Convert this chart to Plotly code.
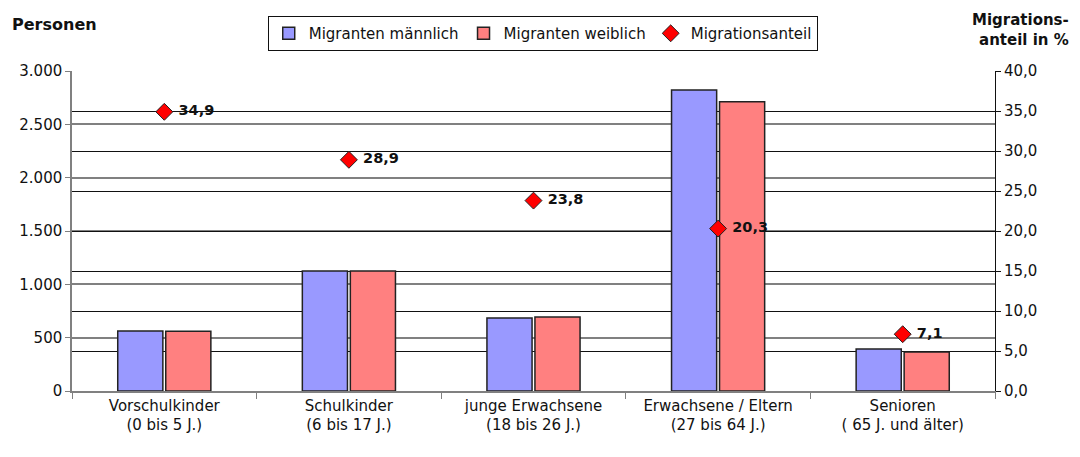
import plotly.graph_objects as go

# Altersgruppen
kategorien = [
    "Vorschulkinder<br>(0 bis 5 J.)",
    "Schulkinder<br>(6 bis 17 J.)",
    "junge Erwachsene<br>(18 bis 26 J.)",
    "Erwachsene / Eltern<br>(27 bis 64 J.)",
    "Senioren<br>( 65 J. und älter)",
]
maennlich = [562, 1125, 684, 2822, 394]
weiblich = [560, 1125, 694, 2712, 366]
anteil = [34.9, 28.9, 23.8, 20.3, 7.1]
anteil_text = [" " + ("%.1f" % v).replace(".", ",") for v in anteil]

font = "DejaVu Sans, Arial, sans-serif"

fig = go.Figure()
fig.add_trace(go.Bar(x=kategorien, y=maennlich, name="Migranten männlich",
                     marker=dict(color="#9999ff", line=dict(color="#222222", width=1.5))))
fig.add_trace(go.Bar(x=kategorien, y=weiblich, name="Migranten weiblich",
                     marker=dict(color="#ff8080", line=dict(color="#222222", width=1.5))))
fig.add_trace(go.Scatter(x=kategorien, y=anteil, name="Migrationsanteil", yaxis="y2",
                         mode="markers+text", text=anteil_text,
                         textposition="middle right",
                         textfont=dict(size=14.5, color="#111111", weight="bold"),
                         marker=dict(symbol="diamond", size=13, color="#ff0000",
                                     line=dict(color="#222222", width=1))))

# page body has an 8px margin, so the figure is a bit smaller than the window
fig.update_layout(
    width=1064, height=441,
    margin=dict(l=64, r=77, t=63, b=58, autoexpand=False),
    plot_bgcolor="white", paper_bgcolor="white",
    font=dict(family=font, size=15, color="#111111"),
    separators=",.",
    barmode="group", bargap=0.48, bargroupgap=0.06,
    showlegend=True,
    legend=dict(orientation="h", x=0.51, xanchor="center", y=1.117, yanchor="middle",
                bordercolor="#111111", borderwidth=1, font=dict(size=15),
                tracegroupgap=0, itemwidth=30),
    xaxis=dict(showline=True, linecolor="#808080", linewidth=1.5,
               ticks="outside", tickson="boundaries", ticklen=6, tickcolor="#808080",
               tickfont=dict(size=15)),
    yaxis=dict(range=[0, 3000], dtick=500, tickformat=",d",
               showline=True, linecolor="#808080", linewidth=1.5,
               ticks="outside", ticklen=5, tickcolor="#808080",
               showgrid=True, gridcolor="#808080", gridwidth=1.5,
               tickfont=dict(size=15), zeroline=False),
    yaxis2=dict(range=[0, 40], dtick=5, tickformat=".1f", overlaying="y", side="right",
                showline=True, linecolor="#111111", linewidth=1,
                ticks="outside", ticklen=5, tickcolor="#111111",
                showgrid=True, gridcolor="#111111", gridwidth=1,
                tickfont=dict(size=15), zeroline=False),
    annotations=[
        dict(text="<b>Personen</b>", xref="paper", yref="paper", x=-0.067, y=1.144,
             xanchor="left", yanchor="middle", showarrow=False, font=dict(size=16)),
        dict(text="<b>Migrations-<br>anteil in %</b>", xref="paper", yref="paper",
             x=1.082, y=1.128, xanchor="right", yanchor="middle", align="right",
             showarrow=False, font=dict(size=15)),
    ],
)

fig.write_html("out.html")
